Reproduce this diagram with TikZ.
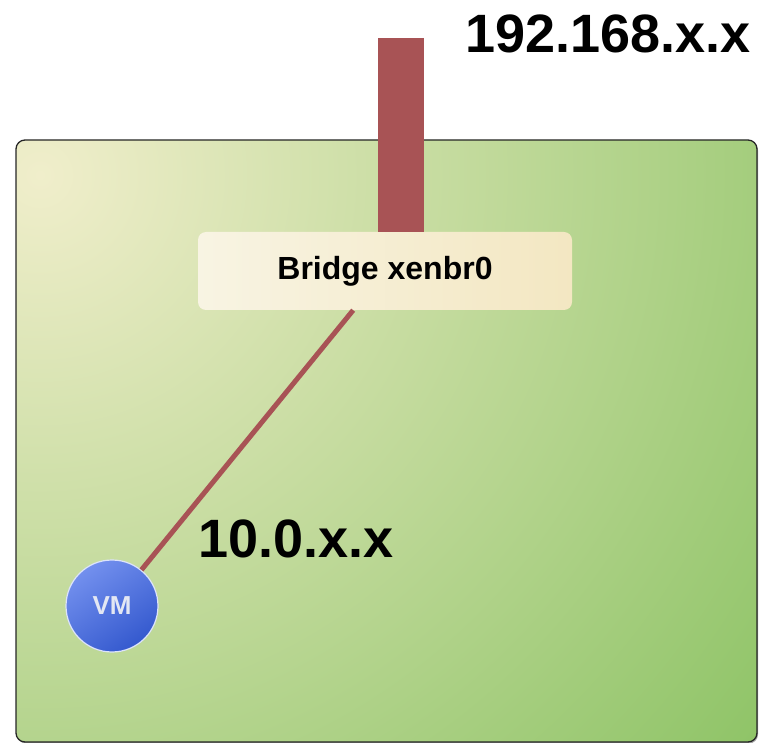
\documentclass[tikz,border=0pt]{standalone}
\usepackage{fontspec}
\setmainfont{Liberation Sans}
\usetikzlibrary{shadows}
\definecolor{hostlight}{HTML}{F0EECB}
\definecolor{hostdark}{HTML}{86C05E}
\definecolor{wire}{HTML}{A85355}
\definecolor{bridgeL}{HTML}{F8F4E3}
\definecolor{bridgeR}{HTML}{F3E7C2}
\definecolor{vmlight}{HTML}{7390EE}
\definecolor{vmdark}{HTML}{3459CE}
\definecolor{vmtext}{HTML}{E3E7F3}
\begin{document}
\begin{tikzpicture}[x=1pt,y=-1pt,
  hostbox/.style={draw=black!85, line width=1.3pt, rounded corners=9pt,
    minimum width=741pt, minimum height=602pt, inner sep=0pt,
    drop shadow={shadow xshift=1pt, shadow yshift=-1.5pt, opacity=0.35, fill=black},
    path picture={\shade[inner color=hostlight, outer color=hostdark]
      ([shift={(24pt,-35pt)}]path picture bounding box.north west) circle (1000pt);}},
  bridgebox/.style={rounded corners=8pt, left color=bridgeL, right color=bridgeR,
    minimum width=374pt, minimum height=78pt, inner sep=0pt,
    font=\fontsize{32}{36}\selectfont\bfseries},
  vmnode/.style={circle, draw=white!75!vmlight, line width=1.2pt,
    minimum size=92pt, inner sep=0pt,
    top color=vmlight, bottom color=vmdark, shading angle=35,
    text=vmtext, font=\fontsize{26}{28}\selectfont\bfseries},
  biglabel/.style={inner sep=0pt, font=\fontsize{54}{60}\selectfont\bfseries},
  wireline/.style={draw=wire, line width=5pt},
  uplinkbar/.style={draw=wire, line width=46pt}
]
\useasboundingbox (0,0) rectangle (761,743);
\node[hostbox] (host) at (386.5,441) {};
\node[bridgebox] (bridge) at (385,271) {Bridge xenbr0};
\coordinate (uplink) at (401,38);
\draw[uplinkbar] (uplink) -- (uplink |- bridge.north);
\node[vmnode] (vm) at (112,606) {VM};
\draw[wireline] (vm) -- (bridge);
\node[biglabel, anchor=base west] (wan) at (465,53) {192.168.x.x};
\node[biglabel, anchor=base west] (lan) at (198,557) {10.0.x.x};
\end{tikzpicture}
\end{document}
